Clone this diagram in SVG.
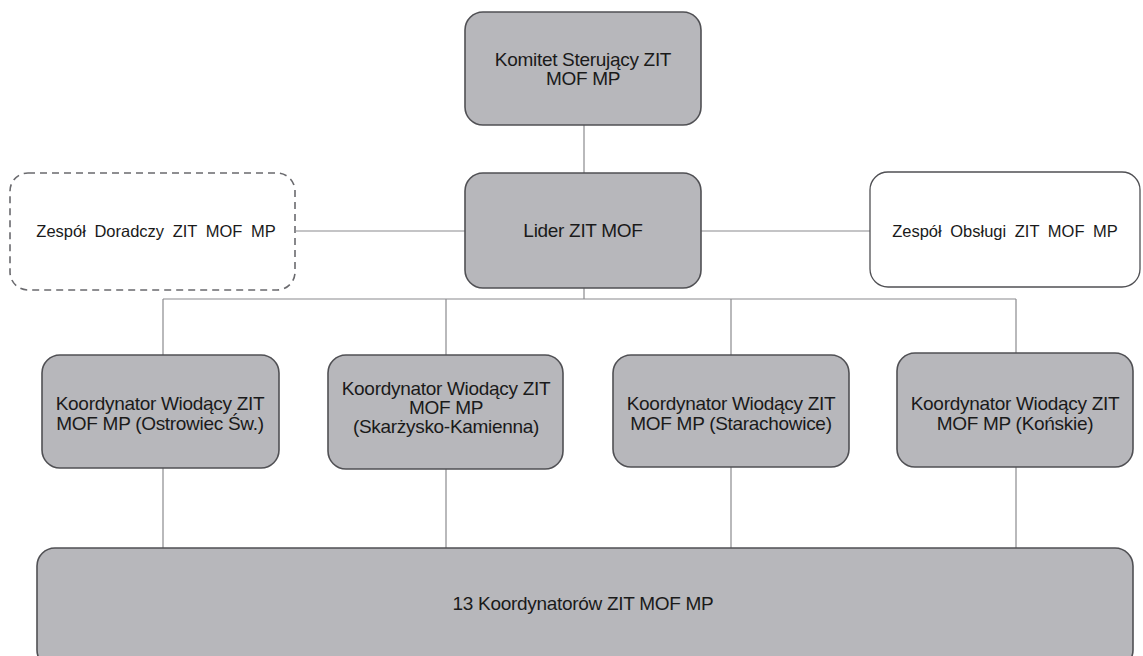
<svg xmlns="http://www.w3.org/2000/svg" width="1143" height="656" viewBox="0 0 1143 656">
<style>
.box{fill:#b7b7bb;stroke:#505054;stroke-width:1.6}
.wbox{fill:#ffffff;stroke:#505054;stroke-width:1.3}
.dbox{fill:#ffffff;stroke:#6a6a6e;stroke-width:1.6;stroke-dasharray:7 5}
.t{font-family:"Liberation Sans",Arial,sans-serif;font-size:19px;fill:#1a1a1a;text-anchor:middle;letter-spacing:-0.3px}
.ts{font-family:"Liberation Sans",Arial,sans-serif;font-size:16.5px;fill:#1a1a1a;text-anchor:middle;word-spacing:4px}
.c{stroke:#8a8a8e;stroke-width:1.2;fill:none}
</style>
<rect width="1143" height="656" fill="#ffffff"/>
<g id="connectors">
<line class="c" x1="584" y1="125" x2="584" y2="173"/>
<line class="c" x1="296" y1="231" x2="465" y2="231"/>
<line class="c" x1="701" y1="231" x2="870" y2="231"/>
<line class="c" x1="584" y1="288" x2="584" y2="299"/>
<line class="c" x1="163" y1="299" x2="1016" y2="299"/>
<line class="c" x1="163" y1="299" x2="163" y2="355"/>
<line class="c" x1="446" y1="299" x2="446" y2="355"/>
<line class="c" x1="731" y1="299" x2="731" y2="355"/>
<line class="c" x1="1016" y1="299" x2="1016" y2="354"/>
<line class="c" x1="163" y1="468" x2="163" y2="548"/>
<line class="c" x1="446" y1="469" x2="446" y2="548"/>
<line class="c" x1="731" y1="467" x2="731" y2="548"/>
<line class="c" x1="1016" y1="467" x2="1016" y2="548"/>
</g>
<g id="komitet">
<rect class="box" x="465" y="12" width="236" height="113" rx="18"/>
<text class="t" x="583" y="66">Komitet Sterujący ZIT</text>
<text class="t" x="583" y="85">MOF MP</text>
</g>
<g id="lider">
<rect class="box" x="465" y="173" width="236" height="115" rx="18"/>
<text class="t" x="583" y="237">Lider ZIT MOF</text>
</g>
<g id="doradczy">
<rect class="dbox" x="10" y="173" width="285" height="117" rx="18"/>
<text class="ts" x="156" y="237">Zespół Doradczy ZIT MOF MP</text>
</g>
<g id="obslugi">
<rect class="wbox" x="870" y="172" width="270" height="115" rx="18"/>
<text class="ts" x="1005" y="237">Zespół Obsługi ZIT MOF MP</text>
</g>
<g id="k1">
<rect class="box" x="42" y="355" width="237" height="113" rx="18"/>
<text class="t" x="160" y="410">Koordynator Wiodący ZIT</text>
<text class="t" x="160" y="430">MOF MP (Ostrowiec Św.)</text>
</g>
<g id="k2">
<rect class="box" x="328" y="355" width="235" height="114" rx="18"/>
<text class="t" x="446" y="395">Koordynator Wiodący ZIT</text>
<text class="t" x="446" y="414">MOF MP</text>
<text class="t" x="446" y="433">(Skarżysko-Kamienna)</text>
</g>
<g id="k3">
<rect class="box" x="613" y="355" width="236" height="112" rx="18"/>
<text class="t" x="731" y="410">Koordynator Wiodący ZIT</text>
<text class="t" x="731" y="430">MOF MP (Starachowice)</text>
</g>
<g id="k4">
<rect class="box" x="897" y="353" width="236" height="114" rx="18"/>
<text class="t" x="1015" y="410">Koordynator Wiodący ZIT</text>
<text class="t" x="1015" y="430">MOF MP (Końskie)</text>
</g>
<g id="bottom">
<rect class="box" x="37" y="548" width="1096" height="120" rx="18"/>
<text class="t" x="583" y="610">13 Koordynatorów ZIT MOF MP</text>
</g>
</svg>
